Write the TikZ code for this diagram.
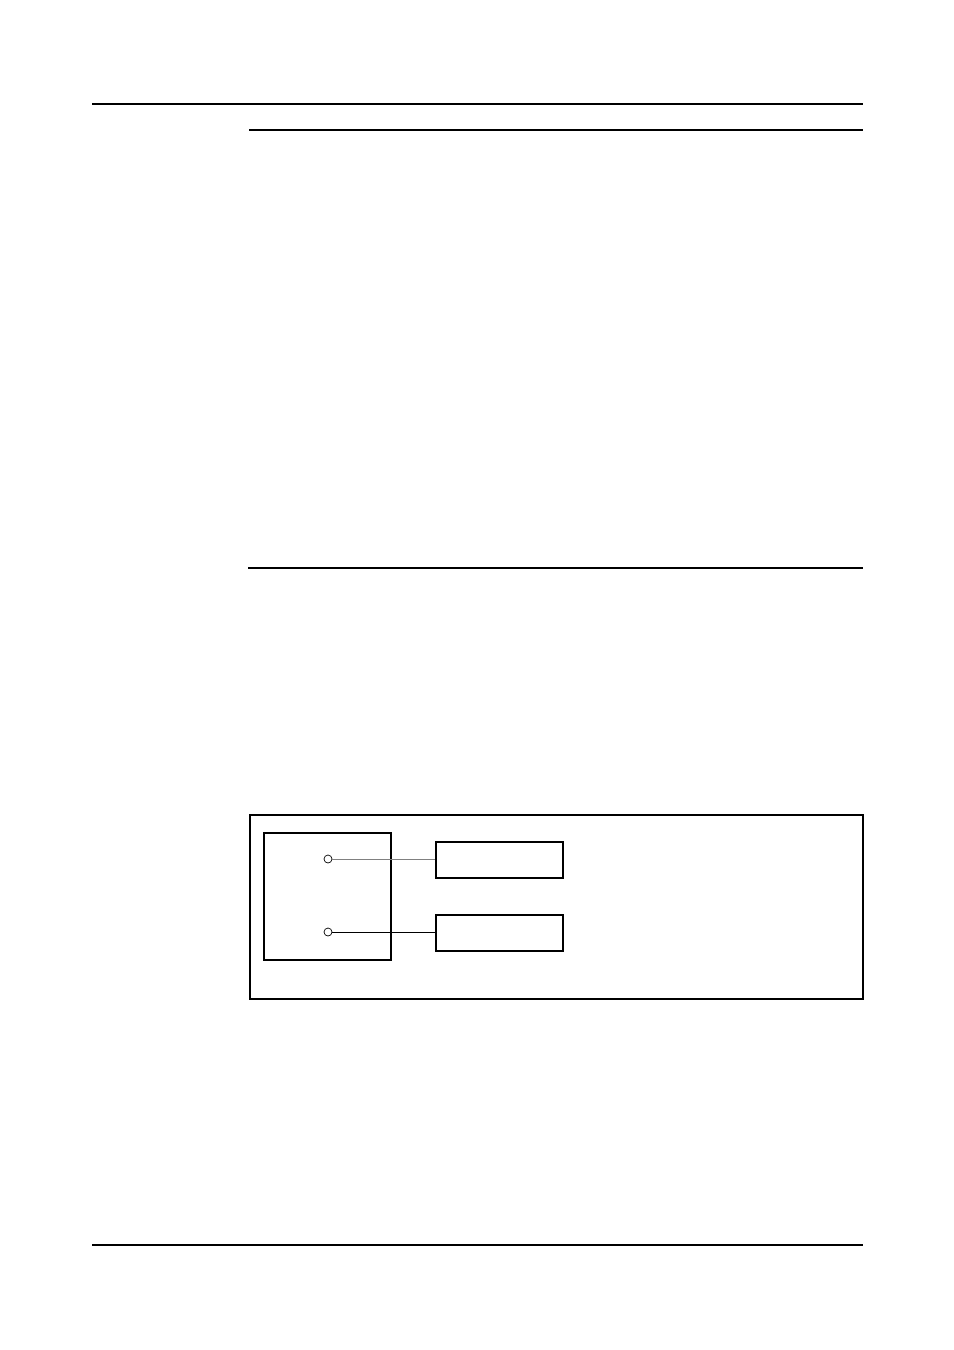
\documentclass[tikz,border=0pt]{standalone}
\usetikzlibrary{positioning}
\tikzset{
  unitbox/.style={draw,line width=0.9pt,minimum width=2.54cm,minimum height=0.72cm,inner sep=0pt},
  pin/.style={draw,circle,line width=0.4pt,minimum size=0.16cm,inner sep=0pt,fill=white},
  wire/.style={line width=0.5pt}
}
\begin{document}
\begin{tikzpicture}[x=0.02cm,y=-0.02cm]
    \useasboundingbox (0,0) rectangle (954,1350);
    % page rules
    \draw[line width=0.6pt] (92,104) -- (863,104);
    \draw[line width=1.4pt] (249,130) -- (863,130);
    \draw[line width=1.4pt] (248,568) -- (863,568);
    \draw[line width=0.6pt] (92,1245) -- (863,1245);
    % frame and device
    \draw[line width=0.9pt] (250,815) rectangle (863,999);
    \node[draw,line width=0.6pt,minimum width=2.54cm,minimum height=2.54cm,inner sep=0pt] (dev) at (327.5,896.5) {};
    \node[unitbox] (boxa) at (499.5,860) {};
    \node[unitbox] (boxb) at (499.5,933) {};
    \node[pin] (pina) at (328,859) {};
    \node[pin] (pinb) at (328,932) {};
    \draw[wire,gray] (pina) -- (pina -| boxa.west);
    \draw[wire] (pinb) -- (pinb -| boxb.west);
\end{tikzpicture}
\end{document}
